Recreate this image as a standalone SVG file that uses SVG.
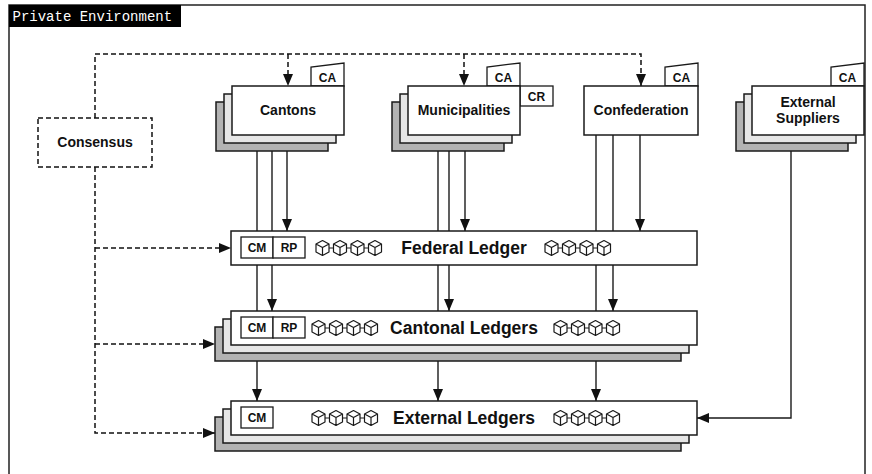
<svg xmlns="http://www.w3.org/2000/svg" xmlns:xlink="http://www.w3.org/1999/xlink" width="872" height="474" viewBox="0 0 872 474">
<style>
.box{fill:#fff;stroke:#1a1a1a;stroke-width:1.5}
.mid{fill:#e6e6e6;stroke:#1a1a1a;stroke-width:1.5}
.back{fill:#b3b3b3;stroke:#1a1a1a;stroke-width:1.5}
.tab{fill:#fff;stroke:#1a1a1a;stroke-width:1.3}
.t{font-family:"Liberation Sans",Arial,sans-serif;font-weight:bold;fill:#111;text-anchor:middle}
.n{font-size:14px}
.s{font-size:12px}
.l{font-size:17.5px}
.ln{fill:none;stroke:#1a1a1a;stroke-width:1.4}
.d{fill:none;stroke:#111;stroke-width:1.5;stroke-dasharray:5 3}
.cube{fill:none;stroke:#1a1a1a;stroke-width:1.2;stroke-linejoin:round}
</style>
<defs>
<marker id="ah" markerUnits="userSpaceOnUse" markerWidth="12" markerHeight="10" viewBox="0 0 12 10" refX="12" refY="5" orient="auto">
<path d="M0,0 L12,5 L0,10 z" fill="#111"/>
</marker>
<g id="cb" class="cube">
<path d="M0,-7.5 L6.5,-4 L6.5,4 L0,7.5 L-6.5,4 L-6.5,-4 Z M-6.5,-4 L0,-0.5 L6.5,-4 M0,-0.5 L0,7.5"/>
</g>
<g id="chain">
<use xlink:href="#cb" x="6.5"/>
<use xlink:href="#cb" x="24"/>
<use xlink:href="#cb" x="41.5"/>
<use xlink:href="#cb" x="59"/>
<path class="cube" d="M13,0 H17.5 M30.5,0 H35 M48,0 H52.5"/>
</g>
</defs>
<rect x="0" y="0" width="872" height="474" fill="#fff"/>
<g id="frame">
<rect x="9" y="5" width="856" height="480" fill="none" stroke="#222" stroke-width="1.5"/>
<rect x="9" y="5" width="172" height="22" fill="#000"/>
<text x="12.5" y="20.5" font-family="'Liberation Mono','DejaVu Sans Mono',monospace" font-size="14" fill="#fff">Private Environment</text>
</g>
<g id="connectors">
<path class="d" d="M95,118 V54 H641 V86" marker-end="url(#ah)"/>
<path class="d" d="M288,54 V86" marker-end="url(#ah)"/>
<path class="d" d="M464,54 V86" marker-end="url(#ah)"/>
<path class="d" d="M95,167 V433 H215" marker-end="url(#ah)"/>
<path class="d" d="M95,248 H231" marker-end="url(#ah)"/>
<path class="d" d="M95,344 H215" marker-end="url(#ah)"/>
<path class="ln" d="M257,150 V401" marker-end="url(#ah)"/>
<path class="ln" d="M272,150 V311" marker-end="url(#ah)"/>
<path class="ln" d="M287,150 V231" marker-end="url(#ah)"/>
<path class="ln" d="M438,150 V401" marker-end="url(#ah)"/>
<path class="ln" d="M449,150 V311" marker-end="url(#ah)"/>
<path class="ln" d="M465,150 V231" marker-end="url(#ah)"/>
<path class="ln" d="M596,134 V401" marker-end="url(#ah)"/>
<path class="ln" d="M613,134 V311" marker-end="url(#ah)"/>
<path class="ln" d="M640,134 V231" marker-end="url(#ah)"/>
<path class="ln" d="M791,150 V418 H697" marker-end="url(#ah)"/>
</g>
<g id="consensus">
<rect x="38" y="118" width="114" height="49" fill="#fff" class="d"/>
<text class="t n" x="95" y="147">Consensus</text>
</g>
<g id="cantons">
<rect class="back" x="216" y="102" width="112" height="49"/>
<rect class="mid" x="224" y="94" width="112" height="49"/>
<polygon class="tab" points="311,86 311,67 344,63 344,86"/>
<text class="t s" x="327.5" y="82">CA</text>
<rect class="box" x="232" y="86" width="112" height="49"/>
<text class="t n" x="288" y="115">Cantons</text>
</g>
<g id="municipalities">
<rect class="back" x="392" y="102" width="112" height="49"/>
<rect class="mid" x="400" y="94" width="112" height="49"/>
<polygon class="tab" points="487,86 487,67 520,63 520,86"/>
<text class="t s" x="503.5" y="82">CA</text>
<rect class="tab" x="520" y="86" width="33" height="20"/>
<text class="t s" x="536.5" y="100.5">CR</text>
<rect class="box" x="408" y="86" width="112" height="49"/>
<text class="t n" x="464" y="115">Municipalities</text>
</g>
<g id="confederation">
<polygon class="tab" points="665,86 665,67 698,63 698,86"/>
<text class="t s" x="681.5" y="82">CA</text>
<rect class="box" x="584" y="86" width="114" height="49"/>
<text class="t n" x="641" y="115">Confederation</text>
</g>
<g id="external-suppliers">
<rect class="back" x="736" y="102" width="112" height="49"/>
<rect class="mid" x="744" y="94" width="112" height="49"/>
<polygon class="tab" points="831,86 831,67 864,63 864,86"/>
<text class="t s" x="847.5" y="82">CA</text>
<rect class="box" x="752" y="86" width="112" height="49"/>
<text class="t n" x="808" y="107">External</text>
<text class="t n" x="808" y="123">Suppliers</text>
</g>
<g id="federal-ledger">
<rect class="box" x="231" y="231" width="466" height="34"/>
<rect class="tab" x="241" y="237" width="32" height="21"/>
<rect class="tab" x="273" y="237" width="32" height="21"/>
<text class="t s" x="257" y="252">CM</text>
<text class="t s" x="289" y="252">RP</text>
<use xlink:href="#chain" x="316" y="248"/>
<use xlink:href="#chain" x="545" y="248"/>
<text class="t l" x="464" y="254">Federal Ledger</text>
</g>
<g id="cantonal-ledgers">
<rect class="back" x="215" y="327" width="466" height="34"/>
<rect class="mid" x="223" y="319" width="466" height="34"/>
<rect class="box" x="231" y="311" width="466" height="34"/>
<rect class="tab" x="241" y="317" width="32" height="21"/>
<rect class="tab" x="273" y="317" width="32" height="21"/>
<text class="t s" x="257" y="332">CM</text>
<text class="t s" x="289" y="332">RP</text>
<use xlink:href="#chain" x="312" y="328"/>
<use xlink:href="#chain" x="554" y="328"/>
<text class="t l" x="464" y="334">Cantonal Ledgers</text>
</g>
<g id="external-ledgers">
<rect class="back" x="215" y="417" width="466" height="34"/>
<rect class="mid" x="223" y="409" width="466" height="34"/>
<rect class="box" x="231" y="401" width="466" height="34"/>
<rect class="tab" x="241" y="407" width="32" height="21"/>
<text class="t s" x="257" y="422">CM</text>
<use xlink:href="#chain" x="312" y="418"/>
<use xlink:href="#chain" x="554" y="418"/>
<text class="t l" x="464" y="424">External Ledgers</text>
</g>
</svg>
